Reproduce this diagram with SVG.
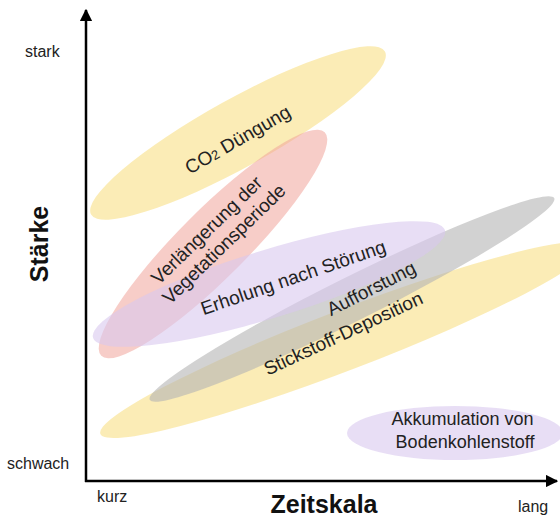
<svg xmlns="http://www.w3.org/2000/svg" width="560" height="517" viewBox="0 0 560 517">
  <style>
    .lbl { font-family: "Liberation Sans", Arial, sans-serif; font-size: 19px; fill: #222; }
    .box { font-family: "Liberation Sans", Arial, sans-serif; font-size: 18px; fill: #222; }
    .tick { font-family: "Liberation Sans", Arial, sans-serif; font-size: 16px; fill: #222; }
    .axt { font-family: "Liberation Sans", Arial, sans-serif; font-size: 25px; font-weight: bold; fill: #111; }
    .yel { fill: #f8df86; opacity: 0.6; }
    .pink { fill: #f0a49a; opacity: 0.55; }
    .pur { fill: #d9c8ef; opacity: 0.6; }
    .gray { fill: #b4b4b4; opacity: 0.6; }
    .axis { stroke: #000; stroke-width: 2.5; fill: none; }
  </style>
  <defs>
    <marker id="arr" viewBox="0 0 10 10" refX="9" refY="5" markerWidth="5" markerHeight="5" orient="auto">
      <path d="M0,0 L10,5 L0,10 z" fill="#000"/>
    </marker>
  </defs>
  <rect width="560" height="517" fill="#fff"/>

  <!-- translucent process ellipses -->
  <g id="co2">
    <ellipse class="yel" cx="238" cy="133" rx="168" ry="34" transform="rotate(-29 238 133)"/>
  </g>
  <g id="stickstoff">
    <ellipse class="yel" cx="345" cy="340" rx="262" ry="30" transform="rotate(-21 345 340)"/>
  </g>
  <g id="aufforstung">
    <ellipse class="gray" cx="352" cy="299" rx="226" ry="22" transform="rotate(-26.5 352 299)"/>
  </g>
  <g id="vegetation">
    <ellipse class="pink" cx="213" cy="244" rx="158" ry="34" transform="rotate(-45 213 244)"/>
  </g>
  <g id="erholung">
    <ellipse class="pur" cx="269" cy="284" rx="184" ry="34" transform="rotate(-17 269 284)"/>
  </g>
  <g id="boden">
    <ellipse class="pur" cx="455" cy="433" rx="108" ry="27"/>
  </g>

  <!-- labels drawn above all ellipses -->
  <g id="co2-label">
    <text class="lbl" x="238" y="146" text-anchor="middle" transform="rotate(-30 238 140)">CO<tspan font-size="13">2</tspan> Düngung</text>
  </g>
  <g id="stickstoff-label">
    <text class="lbl" x="343" y="340" text-anchor="middle" transform="rotate(-25 343 333)">Stickstoff-Deposition</text>
  </g>
  <g id="aufforstung-label">
    <text class="lbl" x="371" y="295" text-anchor="middle" transform="rotate(-27 371 288)">Aufforstung</text>
  </g>
  <g id="vegetation-label">
    <text class="lbl" transform="rotate(-44 218 238)" text-anchor="middle">
      <tspan x="218" y="231">Verlängerung der</tspan>
      <tspan x="218" y="253">Vegetationsperiode</tspan>
    </text>
  </g>
  <g id="erholung-label">
    <text class="lbl" x="293" y="284" text-anchor="middle" transform="rotate(-19 293 277)">Erholung nach Störung</text>
  </g>
  <g id="boden-label">
    <text class="box" text-anchor="middle">
      <tspan x="465" y="425">Akkumulation von</tspan>
      <tspan x="465" y="448">Bodenkohlenstoff</tspan>
    </text>
  </g>

  <g id="axes">
    <line class="axis" x1="86" y1="482" x2="86" y2="10" marker-end="url(#arr)"/>
    <line class="axis" x1="85" y1="481" x2="557" y2="481" marker-end="url(#arr)"/>
  </g>

  <g id="axis-labels">
    <text class="tick" x="25" y="57">stark</text>
    <text class="tick" x="7" y="469">schwach</text>
    <text class="tick" x="97" y="502">kurz</text>
    <text class="tick" x="518" y="512">lang</text>
    <text class="axt" x="324" y="513" text-anchor="middle">Zeitskala</text>
    <text class="axt" x="0" y="0" text-anchor="middle" transform="translate(48 244) rotate(-90)">Stärke</text>
  </g>
</svg>
